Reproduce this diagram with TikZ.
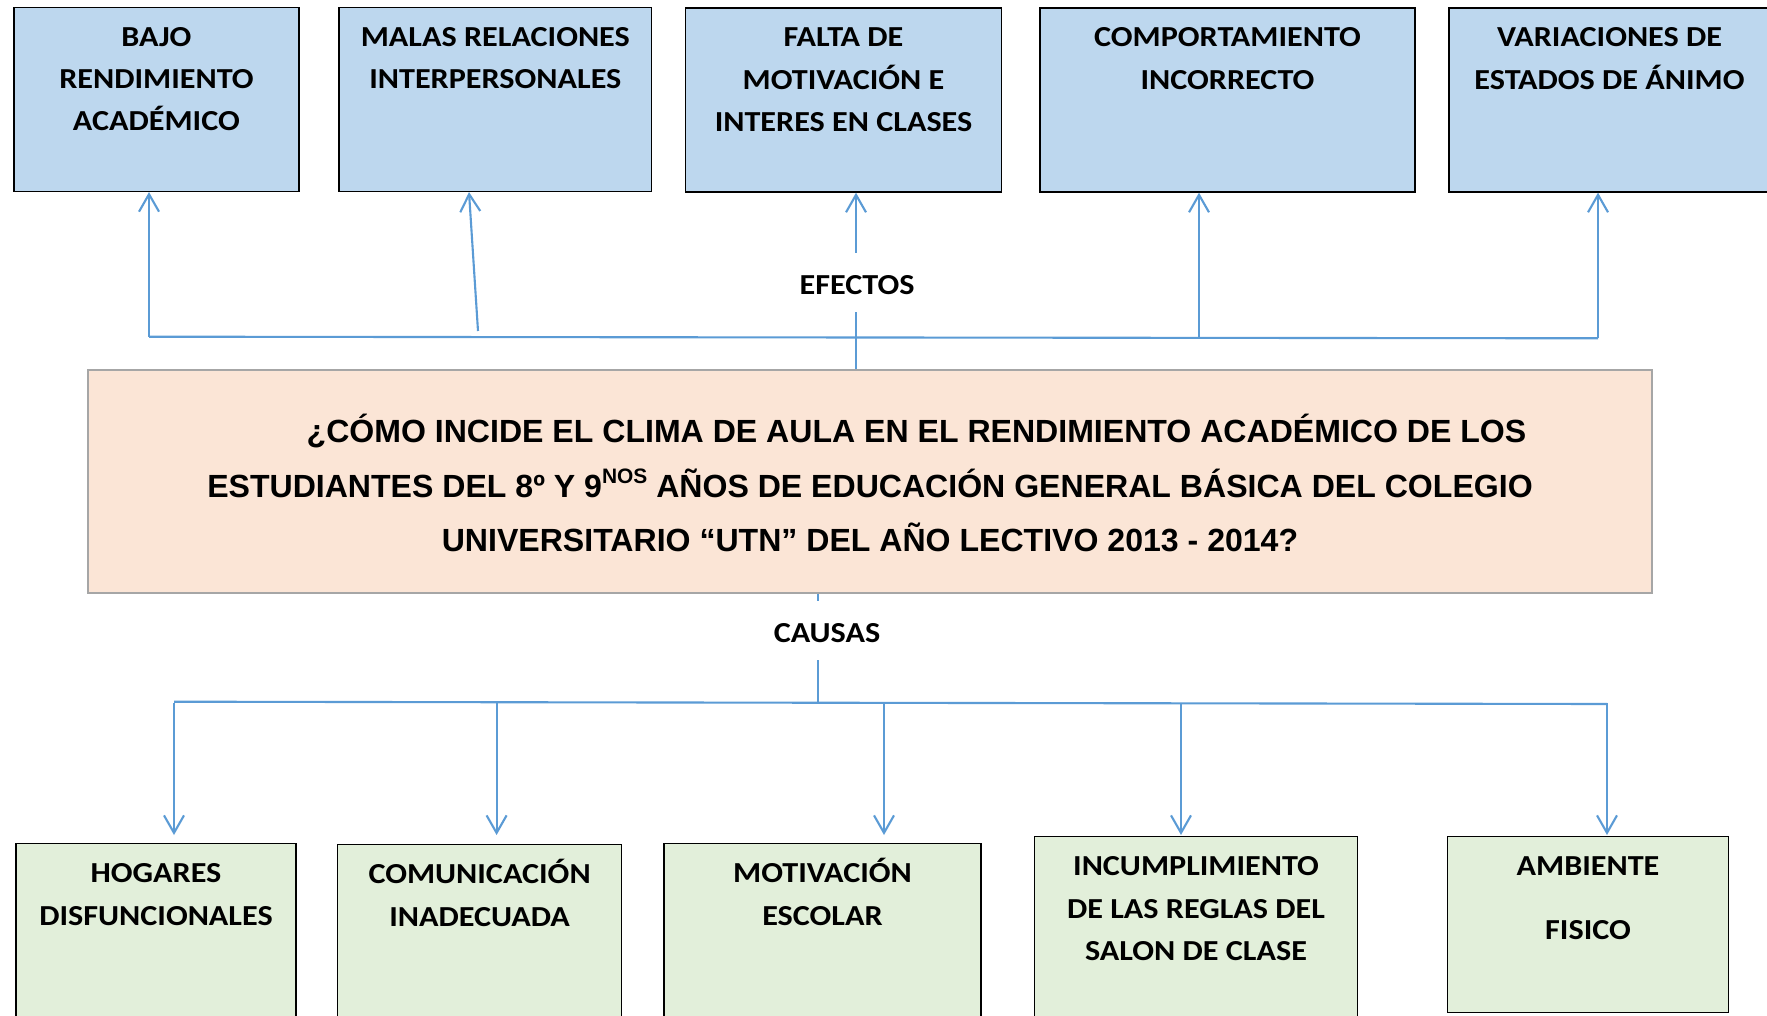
\documentclass[tikz,border=0pt]{standalone}
\usepackage{fontspec}
\newfontfamily\cajafont{Carlito}[FakeStretch=1.11]
\newfontfamily\preguntafont{Liberation Sans}
\usepackage{tikz}
\usetikzlibrary{arrows.meta}
\definecolor{azulcaja}{HTML}{BDD7EE}
\definecolor{verdecaja}{HTML}{E2EFDA}
\definecolor{salmon}{HTML}{FBE5D6}
\definecolor{azullinea}{HTML}{5B9BD5}
\definecolor{grisborde}{HTML}{A6A6A6}

\tikzset{
  efecto/.style={draw=black, line width=0.8pt, fill=azulcaja, anchor=north,
    minimum height=3.68cm, inner sep=0pt},
  causa/.style={draw=black, line width=0.8pt, fill=verdecaja, anchor=north,
    minimum height=3.68cm, inner sep=0pt},
  rotulo/.style={font=\cajafont\bfseries\fontsize{16.5}{24.1}\selectfont,
    align=center, inner sep=0pt, anchor=north},
  titulo/.style={font=\cajafont\bfseries\fontsize{16.5}{24.1}\selectfont,
    fill=white, inner sep=0pt, inner xsep=3pt, anchor=base,
    text height=0.84cm, text depth=0.35cm},
  enunciado/.style={font=\preguntafont\bfseries\fontsize{18.25}{31.1}\selectfont,
    align=center, inner sep=0pt},
  linea/.style={draw=azullinea, line width=1.2pt},
  flecha/.style={linea, -{Straight Barb[length=0.35cm, width=0.4cm]}},
}
\newcommand{\ordsup}[1]{\raisebox{7.6pt}{\fontsize{11.9}{12}\selectfont #1}}

\begin{document}
\begin{tikzpicture}[x=0.02cm, y=-0.02cm]
  \useasboundingbox (0,0) rectangle (1767,1016);

  % efectos
  \node[efecto, minimum width=5.70cm] (bajo) at (156.4,6.7) {};
  \node[efecto, minimum width=6.25cm] (malas) at (495.3,6.7) {};
  \node[efecto, minimum width=6.32cm] (falta) at (843.5,7.3) {};
  \node[efecto, minimum width=7.50cm] (comportamiento) at (1227.5,7.3) {};
  \node[efecto, minimum width=6.42cm] (variaciones) at (1609.5,7.3) {};

  \node[rotulo] (tbajo) at ([yshift=-0.19cm]bajo.north) {\strut BAJO\\RENDIMIENTO\\ACADÉMICO};
  \node[rotulo] (tmalas) at ([yshift=-0.19cm]malas.north) {\strut MALAS RELACIONES\\INTERPERSONALES};
  \node[rotulo] (tfalta) at ([yshift=-0.19cm]falta.north) {\strut FALTA DE\\MOTIVACIÓN E\\INTERES EN CLASES};
  \node[rotulo] (tcomportamiento) at ([yshift=-0.19cm]comportamiento.north) {\strut COMPORTAMIENTO\\INCORRECTO};
  \node[rotulo] (tvariaciones) at ([yshift=-0.19cm]variaciones.north) {\strut VARIACIONES DE\\ESTADOS DE ÁNIMO};

  % problema
  \node[draw=grisborde, line width=1pt, fill=salmon, minimum width=31.28cm,
    minimum height=4.46cm, inner sep=0pt] (pregunta) at (870,481.7) {};
  \node[enunciado] (tpregunta) at (870,483.3) {\hspace*{1.86cm}¿CÓMO INCIDE EL CLIMA DE AULA EN EL RENDIMIENTO ACADÉMICO DE LOS\\
    ESTUDIANTES DEL 8º Y 9\ordsup{NOS} AÑOS DE EDUCACIÓN GENERAL BÁSICA DEL COLEGIO\\
    UNIVERSITARIO “UTN” DEL AÑO LECTIVO 2013 - 2014?};

  % causas
  \node[causa, minimum width=5.60cm] (hogares) at (156,843) {};
  \node[causa, minimum width=5.68cm] (comunicacion) at (479.6,844) {};
  \node[causa, minimum width=6.34cm] (motivacion) at (822.5,843) {};
  \node[causa, minimum width=6.47cm] (incumplimiento) at (1196,836) {};
  \node[causa, minimum width=5.62cm, minimum height=3.52cm] (ambiente) at (1588,836) {};

  \node[rotulo] (thogares) at ([yshift=-0.2cm]hogares.north) {\strut HOGARES\\DISFUNCIONALES};
  \node[rotulo] (tcomunicacion) at ([yshift=-0.2cm]comunicacion.north) {\strut COMUNICACIÓN\\INADECUADA};
  \node[rotulo] (tmotivacion) at ([yshift=-0.2cm]motivacion.north) {\strut MOTIVACIÓN\\ESCOLAR};
  \node[rotulo] (tincumplimiento) at ([yshift=-0.2cm]incumplimiento.north) {\strut INCUMPLIMIENTO\\DE LAS REGLAS DEL\\SALON DE CLASE};
  \node[rotulo] (tambiente) at ([yshift=-0.2cm]ambiente.north) {\strut AMBIENTE\\[12pt]FISICO};

  % conectores de efectos
  \coordinate (e1) at (149,336.7);
  \coordinate (e2) at (478,331);
  \coordinate (e3) at (856,337.3);
  \coordinate (e4) at (1199,337.8);
  \coordinate (e5) at (1598,338.3);
  \draw[linea] (e1) -- (e5);
  \draw[flecha] (e1) -- (e1 |- bajo.south);
  \draw[flecha] (e2) -- (469,0 |- malas.south);
  \draw[flecha] (e3) -- (e3 |- falta.south);
  \draw[flecha] (e4) -- (e4 |- comportamiento.south);
  \draw[flecha] (e5) -- (e5 |- variaciones.south);
  \draw[linea] (pregunta.north -| e3) -- (e3);
  \node[titulo] (efectos) at (857,295) {EFECTOS};

  % conectores de causas
  \coordinate (c0) at (818,702.2);
  \coordinate (c1) at (174,701.7);
  \coordinate (c5) at (1607,704);
  \draw[linea] (c1) -- (c5);
  \draw[linea] (pregunta.south -| c0) -- (c0);
  \node[titulo] (causas) at (827,642.7) {CAUSAS};
  \foreach \x/\caja/\sep in {174/hogares/0.16cm, 496.6/comunicacion/0.18cm,
      884/motivacion/0.16cm, 1181/incumplimiento/0.02cm, 1607/ambiente/0.02cm}
    \draw[flecha, shorten >=\sep] (\x,702.8) -- (\x,0 |- \caja.north);
\end{tikzpicture}
\end{document}
